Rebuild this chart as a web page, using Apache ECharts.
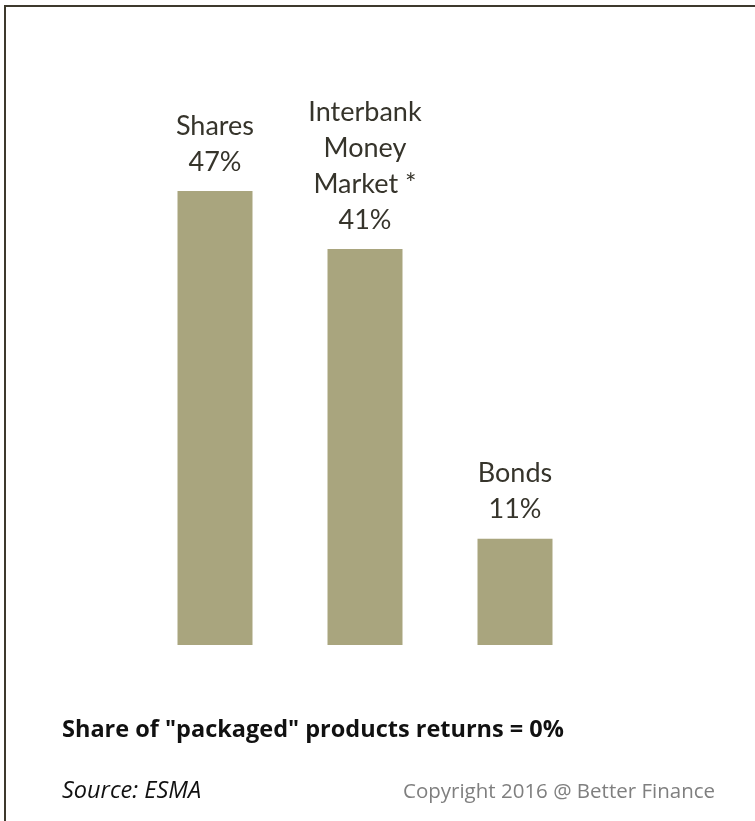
<!DOCTYPE html>
<html>
<head>
<meta charset="utf-8">
<script src="https://cdn.jsdelivr.net/npm/echarts@6/dist/echarts.min.js"></script>
<style>
  html, body { margin: 0; padding: 0; background: #fff; }
  #chart { width: 755px; height: 821px; }
</style>
</head>
<body>
<div id="chart"></div>
<script>
const categories = ['Shares', 'Interbank\nMoney\nMarket *', 'Bonds']
const shareValues = [47, 41, 11]
const noteText = 'Share of "packaged" products returns = 0%'
const sourceText = 'Source: ESMA'
const copyrightText = 'Copyright 2016 @ Better Finance'

const chart = echarts.init(document.getElementById('chart'))

const option = {
  animation: false,
  grid: { left: 140, width: 450, top: 162, bottom: 176 },
  xAxis: {
    type: 'category',
    data: categories,
    axisLine: { show: false },
    axisTick: { show: false },
    axisLabel: { show: false }
  },
  yAxis: {
    type: 'value',
    min: 0,
    max: 50,
    show: false,
    splitLine: { show: false }
  },
  series: [{
    type: 'bar',
    data: shareValues,
    barWidth: '50%',
    itemStyle: { color: '#a9a57e' },
    label: {
      show: true,
      position: 'top',
      distance: 11,
      formatter: (p) => p.name + '\n' + p.value + '%',
      fontFamily: 'Lato',
      fontSize: 27,
      lineHeight: 36,
      color: '#36342b',
      align: 'center'
    }
  }],
  graphic: [
    {
      type: 'rect',
      shape: { x: 5, y: 6, width: 800, height: 900 },
      style: { fill: 'none', stroke: '#3d392d', lineWidth: 2 },
      silent: true
    },
    {
      type: 'text',
      x: 62,
      y: 730,
      style: { text: noteText, font: 'bold 23.5px "Open Sans"', fill: '#111', verticalAlign: 'middle' }
    },
    {
      type: 'text',
      x: 62,
      y: 791,
      style: { text: sourceText, font: 'italic 23.5px "Open Sans"', fill: '#111', verticalAlign: 'middle' }
    },
    {
      type: 'text',
      x: 403,
      y: 792,
      style: { text: copyrightText, font: '20.5px "Open Sans"', fill: '#7f7f7f', verticalAlign: 'middle' }
    }
  ]
}

chart.setOption(option)
</script>
</body>
</html>
